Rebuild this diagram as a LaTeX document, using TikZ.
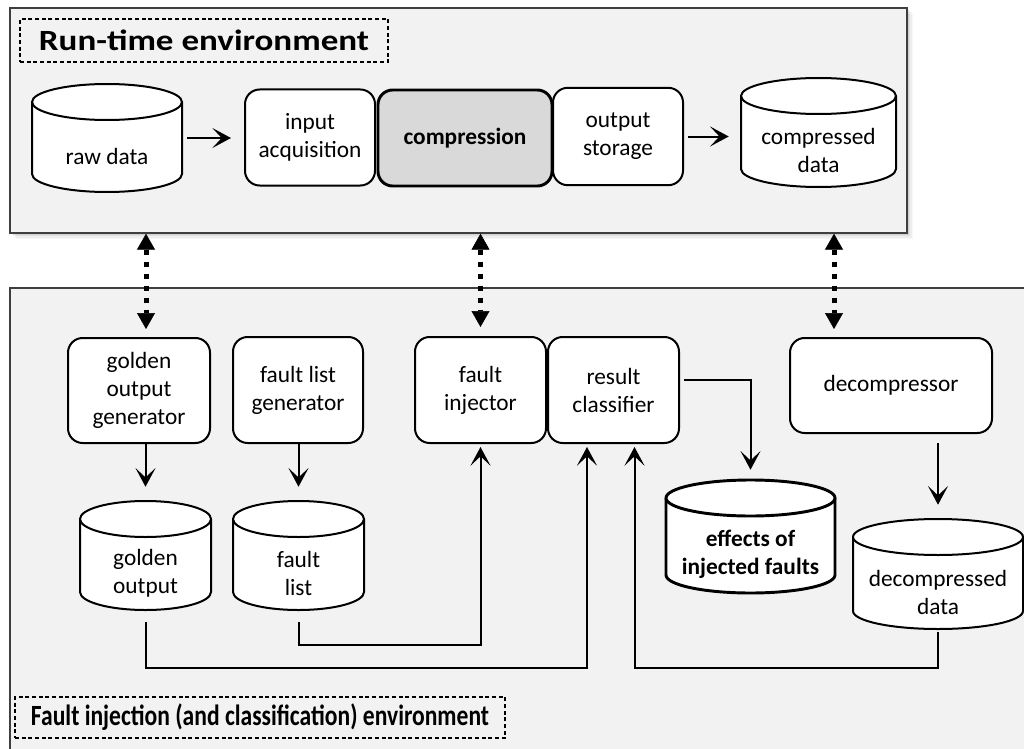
\documentclass[tikz,border=0pt]{standalone}
\usepackage{fontspec}
\setmainfont{Carlito}
\usetikzlibrary{arrows.meta,calc}

\definecolor{panelfill}{HTML}{F2F2F2}
\definecolor{corefill}{HTML}{D9D9D9}
\definecolor{panelline}{HTML}{3F3F3F}

\newcommand{\bodysize}{\fontsize{17.5}{21}\selectfont}
\newcommand{\titlesize}{\fontsize{22}{26}\selectfont\bfseries}

\tikzset{
  panel/.style={draw=panelline, line width=1pt, fill=panelfill, inner sep=0pt},
  envtitle/.style={draw, dash pattern=on 3pt off 2pt, line width=1pt, inner sep=0pt, font=\titlesize},
  stage/.style={draw, line width=1.5pt, fill=white, rounded corners=11pt, align=center, font=\bodysize, inner sep=0pt},
  drumline/.style={draw, line width=1.5pt, fill=white},
  drumframe/.style={inner sep=0pt, draw=none},
  drumlabel/.style={align=center, font=\bodysize, inner sep=0pt},
  flow/.style={line width=1.5pt, -{Stealth[length=14pt,width=15pt,inset=7pt]}},
  link/.style={line width=3.75pt, dash pattern=on 3.75pt off 5.25pt,
    {Triangle[length=12pt,width=13.5pt,line width=0.5pt]}-{Triangle[length=12pt,width=13.5pt,line width=0.5pt]}},
}

% data store drawn as a cylinder: [style]{name}{left}{top}{right}{bottom}{label}
\newcommand{\drum}[7][]{%
  \pgfmathsetmacro{\drumrx}{(#5-#3)*0.375}%
  \filldraw[drumline,#1] (#3,#4+18) -- (#3,#6-18)
     arc[start angle=180,end angle=360,x radius=\drumrx pt,y radius=13.5pt]
     -- (#5,#4+18)
     arc[start angle=0,end angle=180,x radius=\drumrx pt,y radius=13.5pt] -- cycle;
  \draw[drumline,#1] (#3,#4+18) arc[start angle=180,end angle=360,x radius=\drumrx pt,y radius=13.5pt];
  \node[drumframe, minimum width={(#5-#3)*0.75pt}, minimum height={(#6-#4)*0.75pt}]
     (#2) at ({(#3+#5)/2},{(#4+#6)/2}) {};
  \node[drumlabel] (#2-label) at ({(#3+#5)/2},{(#4+#6+36)/2}) {#7};
}

\begin{document}
\begin{tikzpicture}[x=0.75pt,y=-0.75pt]
\useasboundingbox (0,0) rectangle (1024,749);
\clip (0,0) rectangle (1024,749);

% run-time environment panel with its soft shadow
\foreach \s/\o in {6/0.03,4.5/0.04,3/0.05,1.5/0.07}
  \fill[black,opacity=\o] (10+\s,8+\s) rectangle (907+\s,233+\s);
\node[panel, minimum width=672.75pt, minimum height=168.75pt] (rt) at (458.5,120.5) {};

% fault injection environment panel
\node[panel, minimum width=772.5pt, minimum height=354pt] (fi) at (525,524) {};

\node[envtitle, minimum width=276pt, minimum height=32.25pt] (rttitle) at (204,40.5)
  {\resizebox{247.5pt}{\height}{Run-time environment}};
\node[envtitle, minimum width=367.5pt, minimum height=30.75pt] (fititle) at (260,717.5)
  {\resizebox{343.5pt}{\height}{Fault injection (and classification) environment}};

% run-time chain
\drum{raw}{32}{84}{182}{192}{raw data}
\node[stage, minimum width=97.5pt, minimum height=72pt] (acq) at (310,137.5) {input\\acquisition};
\node[stage, fill=corefill, line width=2.2pt, minimum width=130.5pt, minimum height=72pt] (comp) at (465,138) {\textbf{compression}};
\node[stage, minimum width=97.5pt, minimum height=73pt] (store) at (618,136.5) {output\\storage};
\drum{cdata}{741}{78}{896}{187}{compressed\\data}

\draw[flow, shorten <=3.75pt, shorten >=9.75pt] (raw.east) -- (raw.east -| acq.west);
\draw[flow, shorten <=3pt, shorten >=9pt] (store.east) -- (store.east -| cdata.west);

% fault injection tools
\node[stage, minimum width=106.5pt, minimum height=78.75pt] (ggen) at (139,390.5) {golden\\output\\generator};
\node[stage, minimum width=97.5pt, minimum height=79.5pt] (fgen) at (298,390) {fault list\\generator};
\node[stage, minimum width=98.25pt, minimum height=79.5pt] (finj) at (480.5,390) {fault\\injector};
\node[stage, minimum width=98.25pt, minimum height=79.5pt] (rcls) at (613.5,390) {result\\classifier};
\node[stage, minimum width=151.5pt, minimum height=71.25pt] (dec) at (891,385.5) {decompressor};

\drum{gout}{80}{501}{211}{610}{golden\\output}
\drum{flist}{233}{501}{364}{610}{fault\\list}
\drum[line width=2.2pt]{effects}{666}{480}{835}{593}{\textbf{effects of}\\\textbf{injected faults}}
\drum{ddata}{853}{519}{1023}{629}{decompressed\\data}

% links between the two environments
\draw[link, shorten >=6pt] ($(ggen.north |- rt.south)+(7,0)$) -- ($(ggen.north)+(7,0)$);
\draw[link, shorten >=6.75pt] (finj.north |- rt.south) -- (finj.north);
\draw[link, shorten >=6pt] ($(dec.north |- rt.south)+(-57,0)$) -- ($(dec.north)+(-57,0)$);

% data flow inside the fault injection environment
\draw[flow, shorten >=10.5pt] (ggen.south -| gout.north) -- (gout.north);
\draw[flow, shorten >=10.5pt] (fgen.south -| flist.north) -- (flist.north);
\draw[flow, shorten <=6.75pt, shorten >=10.5pt] (dec.south -| ddata.north) -- (ddata.north);
\draw[flow, shorten <=3pt, shorten >=7.5pt] ([yshift=7.5pt]rcls.east) -| (effects.north);
\draw[flow, shorten <=9pt, shorten >=2.25pt] (gout.south) -- ++(0,58) -| ($(rcls.south)+(-26.5,0)$);
\draw[flow, shorten <=9pt, shorten >=2.25pt] (flist.south) -- ++(0,35) -| (finj.south);
\draw[flow, shorten <=2.25pt, shorten >=2.25pt] (ddata.south) -- ++(0,39) -| ($(rcls.south)+(21,0)$);
\end{tikzpicture}
\end{document}
